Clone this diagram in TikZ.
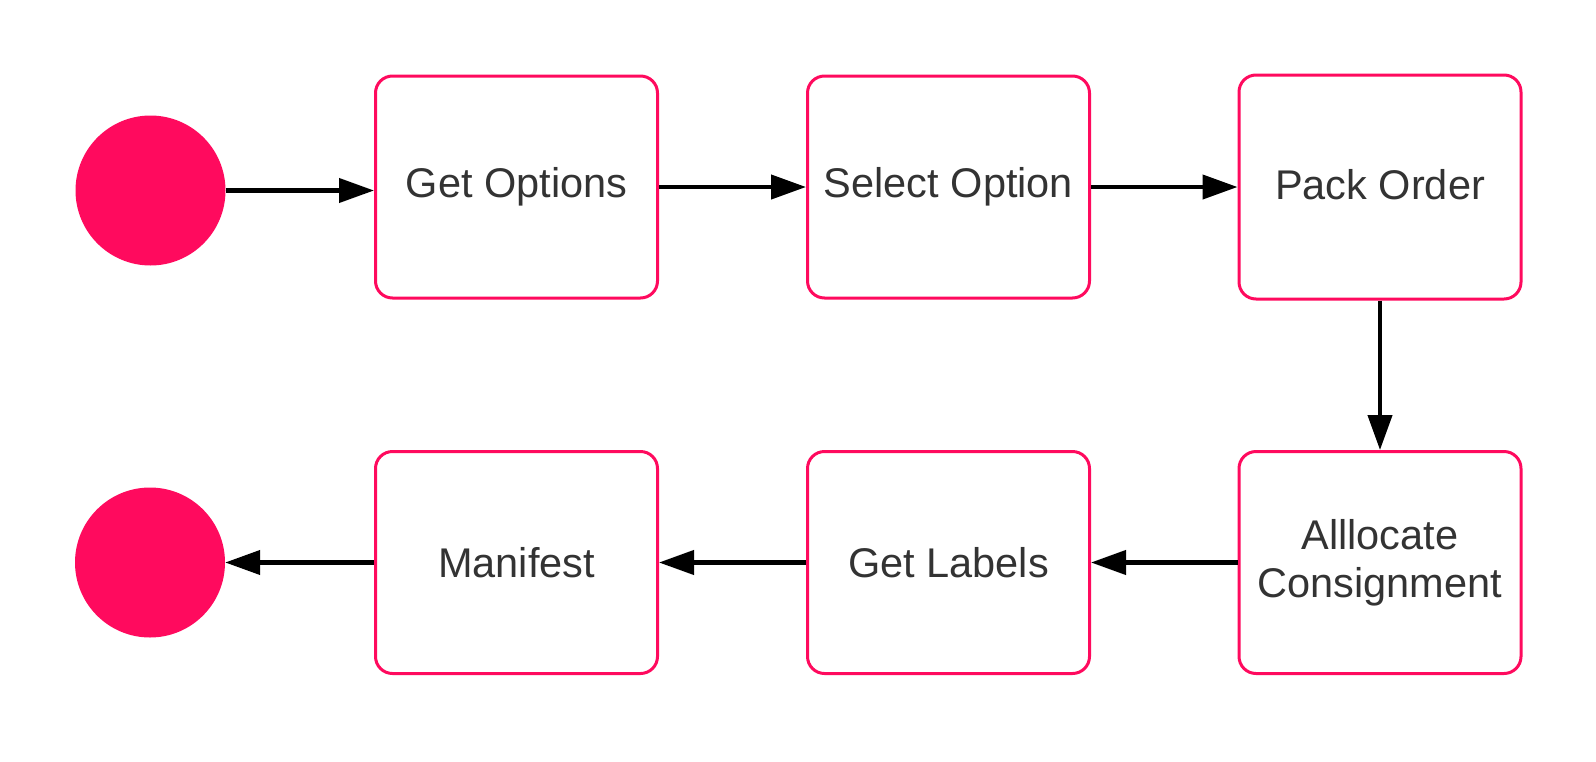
\documentclass[tikz,border=0pt]{standalone}
\usepackage{fontspec}
\setmainfont{Liberation Sans}
\usetikzlibrary{arrows.meta}
\definecolor{pinkc}{HTML}{FF0A5E}
\definecolor{txt}{HTML}{333333}
\tikzset{
  stepbox/.style={draw=pinkc, line width=3pt, rounded corners=17pt, minimum width=282pt, minimum height=222pt, fill=white, text=txt, align=center, font=\fontsize{41.5}{48}\selectfont, inner sep=0pt},
  term/.style={circle, fill=pinkc, draw=none, minimum size=150pt, inner sep=0pt},
  conn/.style={line width=4.2pt, -{Triangle[length=35pt,width=24pt]}}
}
\begin{document}
\begin{tikzpicture}[x=1pt,y=-1pt]
\useasboundingbox (0,0) rectangle (1596,761);
\node[term] (s) at (150.5,190.5) {};
\node[stepbox] (b1) at (516.5,187) {Get Options};
\node[stepbox] (b2) at (948.5,187) {Select Option};
\node[stepbox, minimum height=224pt] (b3) at (1380,187) {\raisebox{5pt}{Pack Order}};
\node[stepbox] (b4) at (1380,562.5) {Alllocate\\Consignment};
\node[stepbox] (b5) at (948.5,562.5) {Get Labels};
\node[stepbox] (b6) at (516.5,562.5) {Manifest};
\node[term] (e) at (150,562.5) {};
\draw[conn] (s.east) -- (s.east -| b1.west);
\draw[conn] (b1) -- (b2);
\draw[conn] (b2) -- (b3);
\draw[conn] (b3) -- (b4);
\draw[conn] (b4) -- (b5);
\draw[conn] (b5) -- (b6);
\draw[conn] (b6) -- (e);
\end{tikzpicture}
\end{document}
